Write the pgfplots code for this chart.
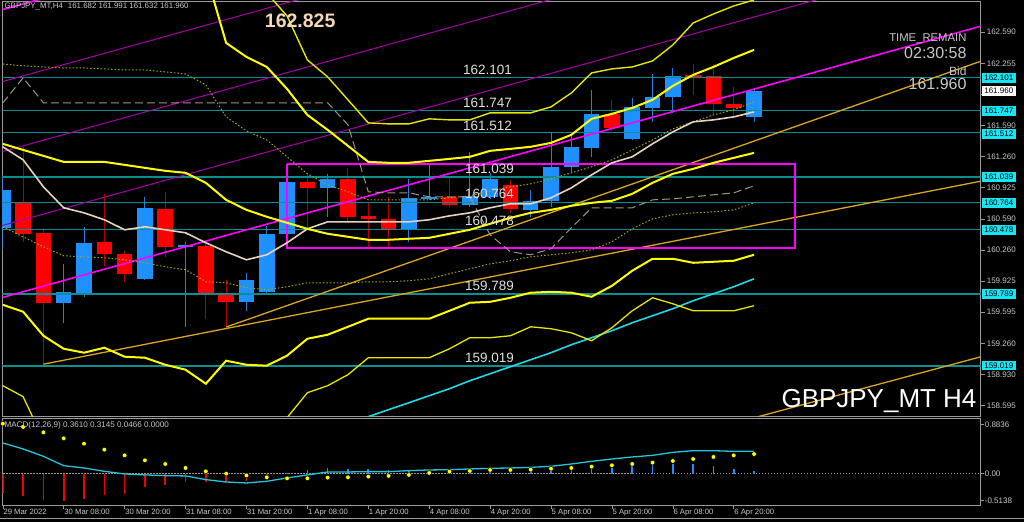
\documentclass[border=0pt]{standalone}
\usepackage{fontspec}
\setmainfont{Liberation Sans}
\usepackage{pgfplots}
\usepackage{pgfplotstable}
\pgfplotsset{compat=1.18}

\definecolor{bull}{HTML}{1E90FF}
\definecolor{bullwick}{HTML}{1E7FE0}
\definecolor{bear}{HTML}{FF0000}
\definecolor{bearwick}{HTML}{B00000}
\definecolor{lvl}{HTML}{0B8E8E}
\definecolor{cybox}{HTML}{14E6F5}
\definecolor{mag}{HTML}{FF00FF}
\definecolor{magthin}{HTML}{A800A8}
\definecolor{yel}{HTML}{FFFF00}
\definecolor{yelthin}{HTML}{E6E600}
\definecolor{olive}{HTML}{A6A600}
\definecolor{wma}{HTML}{E6D2BE}
\definecolor{gdash}{HTML}{A0948A}
\definecolor{gold}{HTML}{DAA520}
\definecolor{cyma}{HTML}{22D6E6}
\definecolor{axgray}{HTML}{9A9A9A}
\definecolor{lbl}{HTML}{C8C8C8}
\definecolor{peach}{HTML}{F6D8B8}
\definecolor{macdc}{HTML}{22C8D8}
\definecolor{hred}{HTML}{F00000}

\newcommand\tickfont{\fontsize{8bp}{9bp}\selectfont}

% H4 candles, bar index 0 = 29 Mar 20:00
\pgfplotstableread{
b o h l c
0 160.496 161.062 160.261 160.902
3 159.695 160.111 159.481 159.812
4 159.791 160.507 159.759 160.336
7 159.951 160.827 159.940 160.710
9 160.293 160.346 159.438 160.314
12 159.705 160.015 159.609 159.940
13 159.812 160.517 159.780 160.432
14 160.432 161.060 160.400 160.987
16 160.923 161.073 160.614 161.020
20 160.475 161.020 160.346 160.817
21 160.806 161.169 160.795 160.827
23 160.742 161.308 160.720 160.838
24 160.827 161.080 160.800 161.020
26 160.688 160.902 160.614 160.785
27 160.785 161.511 160.720 161.148
28 161.148 161.490 161.084 161.361
29 161.351 161.970 161.255 161.714
31 161.447 161.885 161.436 161.789
32 161.778 162.141 161.629 161.896
33 161.896 162.205 161.725 162.120
37 161.682 161.991 161.632 161.960
}\bull

\pgfplotstableread{
b o h l c
1 160.763 161.361 160.346 160.432
2 160.443 160.496 159.032 159.695
5 160.346 160.859 160.090 160.218
6 160.218 160.250 159.919 160.005
8 160.699 160.881 160.186 160.293
10 160.304 160.346 159.524 159.802
11 159.802 159.940 159.438 159.705
15 160.987 161.084 160.475 160.923
17 161.020 161.137 160.560 160.614
18 160.624 160.763 160.293 160.592
19 160.592 160.827 160.282 160.485
22 160.827 161.041 160.720 160.742
25 160.955 161.009 160.656 160.699
30 161.714 161.864 161.532 161.564
34 162.131 162.248 161.917 162.109
35 162.120 162.248 161.714 161.821
36 161.821 162.003 161.671 161.778
}\bear

% indicator buffers
\pgfplotstableread{
b l1 l2 l3 l4 l5 w d1 d2 g cy
0 161.394 nan nan 159.673 158.808 161.362 162.248 160.507 161.832 nan
1 161.329 nan nan 159.599 158.691 161.223 162.227 160.400 162.099 nan
2 161.265 nan nan 159.342 158.231 160.934 162.216 160.293 161.832 nan
3 161.201 nan nan 159.203 157.900 160.710 162.205 160.197 161.832 nan
4 161.201 nan nan 159.161 157.900 160.656 162.205 160.186 161.832 nan
5 161.201 nan nan 159.214 157.900 160.582 162.195 160.176 161.832 nan
6 161.169 nan nan 159.118 157.900 160.475 162.184 160.154 161.832 nan
7 161.137 nan nan 159.107 157.900 160.507 162.184 160.122 161.832 nan
8 161.105 nan nan 159.032 157.900 160.475 162.163 160.079 161.832 nan
9 161.084 nan nan 158.979 157.900 160.443 162.141 160.047 161.832 nan
10 160.977 163.221 nan 158.829 157.900 160.336 162.024 159.919 161.832 nan
11 160.795 162.473 nan 159.075 157.900 160.240 161.682 159.908 161.832 nan
12 160.688 162.323 163.359 159.032 157.900 160.154 161.532 159.855 161.832 nan
13 160.614 162.216 163.007 159.022 158.178 160.208 161.436 159.834 161.832 nan
14 160.550 161.981 162.761 159.129 158.466 160.336 161.255 159.866 161.832 nan
15 160.485 161.703 162.291 159.310 158.733 160.485 161.073 159.908 161.832 nan
16 160.432 161.543 162.109 159.353 158.808 160.560 160.955 159.908 161.832 nan
17 160.400 161.372 161.864 159.438 158.926 160.560 160.881 159.908 161.597 158.402
18 160.368 161.201 161.618 159.524 159.107 160.560 160.795 159.919 160.881 158.477
19 160.368 161.191 161.607 159.524 159.107 160.560 160.795 159.919 160.870 158.552
20 160.379 161.191 161.607 159.524 159.107 160.560 160.795 159.930 160.870 158.626
21 160.389 161.212 161.661 159.524 159.107 160.582 160.795 159.951 160.827 158.701
22 160.432 161.233 161.650 159.609 159.203 160.624 160.817 160.005 160.827 158.776
23 160.475 161.255 161.650 159.695 159.321 160.656 160.838 160.058 160.827 158.861
24 160.539 161.319 161.725 159.705 159.321 160.710 160.891 160.111 160.421 158.936
25 160.603 161.340 161.725 159.748 159.342 160.753 160.934 160.144 160.240 159.011
26 160.656 161.362 161.725 159.802 159.438 160.753 160.966 160.186 160.208 159.086
27 160.688 161.404 161.789 159.812 159.417 160.817 161.020 160.208 160.272 159.161
28 160.731 161.490 161.938 159.802 159.374 160.923 161.084 160.229 160.496 159.246
29 160.763 161.661 162.152 159.759 159.289 161.062 161.148 160.261 160.710 159.321
30 160.785 161.714 162.195 159.876 159.428 161.191 161.223 160.347 160.710 159.396
31 160.859 161.778 162.216 160.037 159.609 161.255 161.329 160.485 160.710 159.481
32 160.977 161.864 162.280 160.165 159.748 161.394 161.436 160.592 160.795 159.556
33 161.073 162.013 162.451 160.165 159.684 161.522 161.554 160.635 160.806 159.631
34 161.126 162.131 162.686 160.122 159.609 161.629 161.629 160.656 160.827 159.716
35 161.191 162.216 162.782 160.133 159.609 161.650 161.703 160.667 160.849 159.791
36 161.244 162.312 162.868 160.144 159.609 161.682 161.757 160.688 160.870 159.866
37 161.297 162.398 162.932 160.208 159.663 161.735 161.842 160.763 160.945 159.951
}\ind

% MACD(12,26,9): main, signal, histogram
\pgfplotstableread{
b m s hn hp
0 0.493 0.803 -0.305 nan
1 0.397 0.750 -0.365 nan
2 0.278 0.664 -0.430 nan
3 0.128 0.568 -0.445 nan
4 0.091 0.482 -0.406 nan
5 0.037 0.385 -0.349 nan
6 -0.005 0.294 -0.321 nan
7 -0.021 0.214 -0.220 nan
8 -0.032 0.155 -0.177 nan
9 -0.037 0.091 -0.140 nan
10 -0.096 0.037 -0.140 nan
11 -0.134 0.000 -0.128 nan
12 -0.150 -0.027 -0.124 nan
13 -0.123 -0.059 -0.096 nan
14 -0.069 -0.075 nan 0.010
15 -0.021 -0.075 nan 0.053
16 0.027 -0.064 nan 0.096
17 0.027 -0.059 nan 0.080
18 0.032 -0.048 nan 0.080
19 0.032 -0.037 nan 0.064
20 0.048 -0.021 nan 0.065
21 0.059 0.011 nan 0.048
22 0.064 0.032 nan 0.035
23 0.075 0.043 nan 0.032
24 0.085 0.059 nan 0.026
25 0.091 0.059 nan 0.032
26 0.101 0.064 nan 0.040
27 0.118 0.080 nan 0.045
28 0.155 0.091 nan 0.064
29 0.198 0.112 nan 0.096
30 0.235 0.134 nan 0.120
31 0.268 0.155 nan 0.145
32 0.294 0.177 nan 0.165
33 0.342 0.203 nan 0.150
34 0.369 0.235 nan 0.155
35 0.369 0.268 nan 0.118
36 0.358 0.294 nan 0.075
37 0.361 0.3145 nan 0.0466
}\macd

\begin{document}
\begin{tikzpicture}[x=1bp,y=1bp]
\fill[black] (0,0) rectangle (1024,522);

% ---------------- price panel ----------------
\begin{axis}[
    at={(2bp,105bp)}, anchor=south west,
    width=979bp, height=416bp, scale only axis,
    xmin=-0.02, xmax=48.16,
    ymin=158.477, ymax=162.921,
    clip mode=individual,
    axis line style={draw=axgray, line width=0.8bp},
    xtick=\empty,
    ytick={158.595,158.930,159.260,159.595,159.925,160.260,160.590,160.925,161.260,161.590,161.925,162.255,162.590},
    yticklabels={158.595,158.930,159.260,159.595,159.925,160.260,160.590,160.925,161.260,161.590,{},162.255,162.590},
    ytick pos=right, yticklabel pos=right,
    tick align=outside, major tick length=4bp,
    tick style={draw=axgray, line width=0.6bp},
    yticklabel style={font=\tickfont, text=lbl, anchor=west, inner sep=0pt, xshift=2bp},
]
% candles
\addplot[quiver={u=0,v=\thisrow{h}-\thisrow{l}}, -, draw=bullwick, line width=1bp] table[x=b,y=l]{\bull};
\addplot[quiver={u=0,v=\thisrow{h}-\thisrow{l}}, -, draw=bearwick, line width=1bp] table[x=b,y=l]{\bear};
\addplot[quiver={u=0,v=\thisrow{c}-\thisrow{o}}, -, draw=bull, line width=15.5bp] table[x=b,y=o]{\bull};
\addplot[quiver={u=0,v=\thisrow{c}-\thisrow{o}}, -, draw=bear, line width=15.5bp] table[x=b,y=o]{\bear};

% horizontal levels
\addplot[lvl, line width=1.2bp] coordinates {(-1,162.101) (49,162.101)};
\addplot[lvl, line width=1.2bp] coordinates {(-1,161.747) (49,161.747)};
\addplot[lvl, line width=1.2bp] coordinates {(-1,161.512) (49,161.512)};
\addplot[lvl, line width=1.2bp] coordinates {(-1,161.039) (49,161.039)};
\addplot[lvl, line width=1.2bp] coordinates {(-1,160.764) (49,160.764)};
\addplot[lvl, line width=1.2bp] coordinates {(-1,160.478) (49,160.478)};
\addplot[lvl, line width=1.2bp] coordinates {(-1,159.789) (49,159.789)};
\addplot[lvl, line width=1.2bp] coordinates {(-1,159.019) (49,159.019)};

% channel
\addplot[mag, line width=1.6bp] coordinates {(-0.5,162.799) (48.18,165.729)};
\addplot[magthin, line width=1bp] coordinates {(-0.5,162.030) (48.18,164.960)};
\addplot[magthin, line width=1bp] coordinates {(-0.5,161.282) (48.18,164.212)};
\addplot[magthin, line width=1bp] coordinates {(-0.5,160.492) (48.18,163.422)};
\addplot[mag, line width=1.6bp] coordinates {(-0.5,159.722) (48.18,162.652)};

% trend lines
\addplot[gold, line width=1.3bp] coordinates {(2,159.038) (48.18,160.995)};
\addplot[gold, line width=1.3bp] coordinates {(11,159.435) (48.18,162.278)};
\addplot[gold, line width=1.3bp] coordinates {(37.21,158.477) (48.18,159.118)};

% range box
\addplot[mag, line width=2bp, line join=miter] coordinates {(13.99,161.180) (39.0,161.180) (39.0,160.282) (13.99,160.282) (13.99,161.180)};

% indicators
\addplot[olive, line width=1bp, dash pattern=on 1.5bp off 2bp] table[x=b,y=d1]{\ind};
\addplot[olive, line width=1bp, dash pattern=on 1.5bp off 2bp] table[x=b,y=d2]{\ind};
\addplot[gdash, line width=1bp, dash pattern=on 8bp off 4bp] table[x=b,y=g]{\ind};
\addplot[wma, line width=1.6bp] table[x=b,y=w]{\ind};
\addplot[cyma, line width=1.6bp] table[x=b,y=cy]{\ind};
\addplot[yelthin, line width=1.3bp] table[x=b,y=l5]{\ind};
\addplot[yel, line width=2bp] table[x=b,y=l4]{\ind};
\addplot[yelthin, line width=1.4bp] table[x=b,y=l3]{\ind};
\addplot[yel, line width=2bp] table[x=b,y=l2]{\ind};
\addplot[yel, line width=2bp] table[x=b,y=l1]{\ind};
\end{axis}

% ---------------- MACD panel ----------------
\begin{axis}[
    at={(2bp,16bp)}, anchor=south west,
    width=979bp, height=87bp, scale only axis,
    xmin=-0.02, xmax=48.16,
    ymin=-0.5138, ymax=0.8836,
    clip mode=individual,
    axis line style={draw=axgray, line width=0.8bp},
    xtick={0,3,...,36},
    xticklabels={29 Mar 2022,30 Mar 08:00,30 Mar 20:00,31 Mar 08:00,31 Mar 20:00,1 Apr 08:00,1 Apr 20:00,4 Apr 08:00,4 Apr 20:00,5 Apr 08:00,5 Apr 20:00,6 Apr 08:00,6 Apr 20:00},
    xtick pos=bottom,
    ytick={-0.429,0,0.787},
    yticklabels={-0.5138,0.00,0.8836},
    ytick pos=right, yticklabel pos=right,
    tick align=outside, major tick length=3bp,
    tick style={draw=axgray, line width=0.6bp},
    xticklabel style={font=\fontsize{7.7bp}{9bp}\selectfont, text=lbl, anchor=north west, inner sep=0pt, xshift=0.5bp},
    yticklabel style={font=\tickfont, text=lbl, anchor=west, inner sep=0pt, xshift=1bp},
]
\addplot[axgray, line width=0.8bp, dash pattern=on 1.5bp off 1.5bp] coordinates {(-1,0) (49,0)};
\addplot[ycomb, draw=hred, line width=1.6bp] table[x=b,y=hn]{\macd};
\addplot[ycomb, draw=bull, line width=1.6bp] table[x=b,y=hp]{\macd};
\addplot[macdc, line width=1.3bp] table[x=b,y=m]{\macd};
\addplot[only marks, mark=*, mark options={draw=none, fill=yel}, mark size=2.3bp] table[x=b,y=s]{\macd};
\end{axis}

\draw[axgray, line width=0.8bp] (0,3) -- (1024,3);

% ---------------- texts ----------------
\node[anchor=west, inner sep=0pt, text=lbl, font=\fontsize{7.9bp}{9bp}\selectfont] at (4,515) {GBPJPY\_MT,H4\hspace{5bp}161.682 161.991 161.632 161.960};
\node[inner sep=0pt, text=peach, font=\bfseries\fontsize{19.5bp}{22bp}\selectfont] at (300,501.5) {162.825};

\node[anchor=east, inner sep=0pt, text=lbl, font=\fontsize{11.3bp}{13bp}\selectfont] at (967,483) {TIME\_REMAIN};
\node[anchor=east, inner sep=0pt, text=lbl, font=\fontsize{16bp}{18bp}\selectfont] at (967,469.3) {02:30:58};
\node[anchor=east, inner sep=0pt, text=lbl, font=\fontsize{12bp}{14bp}\selectfont] at (967,451) {Bid};
\node[anchor=east, inner sep=0pt, text=lbl, font=\fontsize{16bp}{18bp}\selectfont] at (967,437.7) {161.960};

\node[anchor=east, inner sep=0pt, text=white, font=\fontsize{26bp}{30bp}\selectfont] at (977,121) {GBPJPY\_MT H4};

\begin{scope}[every node/.style={anchor=west, inner sep=0pt, text=white!88!black, font=\fontsize{13.5bp}{15bp}\selectfont}]
\node at (463,452) {162.101};
\node at (463,419) {161.747};
\node at (463,396) {161.512};
\node at (465,353) {161.039};
\node at (465,328) {160.764};
\node at (465,301) {160.478};
\node at (465,236) {159.789};
\node at (465,164) {159.019};
\end{scope}

\node[anchor=west, inner sep=0pt, text=lbl, font=\fontsize{8.1bp}{9bp}\selectfont] at (4,96) {MACD(12,26,9) 0.3610 0.3145 0.0466 0.0000};

\begin{scope}[every node/.style={anchor=west, fill=cybox, text=black, inner xsep=2.5bp, inner ysep=0pt, minimum height=9.5bp, font=\tickfont}]
\node at (982,444) {162.101};
\node at (982,411) {161.747};
\node at (982,388) {161.512};
\node at (982,345) {161.039};
\node at (982,319) {160.764};
\node at (982,292) {160.478};
\node at (982,228) {159.789};
\node at (982,156) {159.019};
\node[fill=white] at (982,431) {161.960};
\end{scope}
\end{tikzpicture}
\end{document}
